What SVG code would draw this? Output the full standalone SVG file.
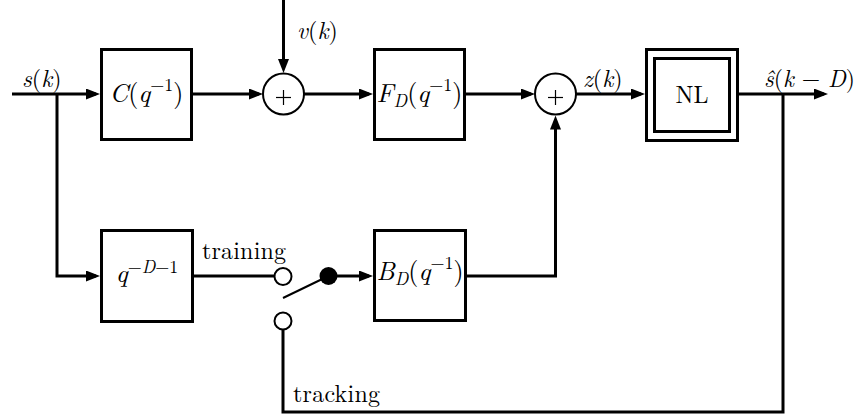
<svg xmlns="http://www.w3.org/2000/svg" width="859" height="418" viewBox="0 0 859 418" font-family="Latin Modern Roman, CMU Serif, Liberation Serif, serif">
<style>
.box{fill:none;stroke:#000;stroke-width:3}
.sum{fill:#fff;stroke:#000;stroke-width:2}
.ln{fill:none;stroke:#000;stroke-width:3}
.thin{fill:none;stroke:#000;stroke-width:2}
.pl{stroke:#000;stroke-width:1.2}
.t{font-size:24px;fill:#000}
.b{font-size:26px}
.i{font-style:italic}
.s{font-size:18px}
</style>
<defs>
<marker id="ah" markerUnits="userSpaceOnUse" markerWidth="15" markerHeight="12" refX="10" refY="5.5" orient="auto">
<path d="M0,0 L14,5.5 L0,11 z" fill="#000"/>
</marker>
</defs>
<g id="connectors">
<path class="ln" d="M12,94 H96" marker-end="url(#ah)"/>
<path class="ln" d="M57,94 V276 H96" marker-end="url(#ah)"/>
<path class="ln" d="M193,94 H259" marker-end="url(#ah)"/>
<path class="ln" d="M283.5,0 V69" marker-end="url(#ah)"/>
<path class="ln" d="M304,94 H369" marker-end="url(#ah)"/>
<path class="ln" d="M466,94 H531" marker-end="url(#ah)"/>
<path class="ln" d="M576,94 H641" marker-end="url(#ah)"/>
<path class="ln" d="M739,94 H824" marker-end="url(#ah)"/>
<path class="ln" d="M783,94 V412 H283 V330"/>
<path class="ln" d="M194,276 H275"/>
<path class="ln" d="M337,276 H369" marker-end="url(#ah)"/>
<path class="ln" d="M467,276 H555.5 V119.5" marker-end="url(#ah)"/>
</g>
<g id="C">
<rect class="box" x="101.5" y="49.5" width="90" height="90"/>
<text class="t b" x="146.5" y="102" text-anchor="middle"><tspan class="i">C</tspan>(<tspan class="i">q</tspan><tspan class="s" dy="-11">−1</tspan><tspan dy="11">)</tspan></text>
</g>
<g id="sum1">
<circle class="sum" cx="283.5" cy="94" r="20.5"/>
<line class="pl" x1="276" y1="97.5" x2="291" y2="97.5"/>
<line class="pl" x1="283.5" y1="90" x2="283.5" y2="105"/>
</g>
<g id="F">
<rect class="box" x="374.5" y="49.5" width="90" height="90"/>
<text class="t b" x="419.5" y="102" text-anchor="middle"><tspan class="i">F</tspan><tspan class="i s" dy="5">D</tspan><tspan dy="-5">(</tspan><tspan class="i">q</tspan><tspan class="s" dy="-11">−1</tspan><tspan dy="11">)</tspan></text>
</g>
<g id="sum2">
<circle class="sum" cx="555.5" cy="94" r="20.5"/>
<line class="pl" x1="548" y1="97.5" x2="563" y2="97.5"/>
<line class="pl" x1="555.5" y1="90" x2="555.5" y2="105"/>
</g>
<g id="NL">
<rect class="box" x="646.5" y="49.5" width="91" height="91"/>
<rect class="box" x="654.5" y="58.5" width="75" height="73"/>
<text class="t" x="692" y="103" text-anchor="middle">NL</text>
</g>
<g id="delay">
<rect class="box" x="101.5" y="230.5" width="91" height="91"/>
<text class="t b" x="147" y="282" text-anchor="middle"><tspan class="i">q</tspan><tspan class="s" dy="-9">−<tspan class="i">D</tspan>−1</tspan></text>
</g>
<g id="B">
<rect class="box" x="374.5" y="230.5" width="91" height="90"/>
<text class="t b" x="420" y="280" text-anchor="middle"><tspan class="i">B</tspan><tspan class="i s" dy="5">D</tspan><tspan dy="-5">(</tspan><tspan class="i">q</tspan><tspan class="s" dy="-11">−1</tspan><tspan dy="11">)</tspan></text>
</g>
<g id="switch">
<circle class="thin" cx="283" cy="276.5" r="8.5" style="fill:#fff"/>
<circle class="thin" cx="283" cy="321" r="8.5" style="fill:#fff"/>
<line class="thin" x1="283" y1="298" x2="328.5" y2="276"/>
<circle cx="328.5" cy="276" r="9" fill="#000"/>
</g>
<g id="labels">
<text class="t" x="22" y="87"><tspan class="i">s</tspan>(<tspan class="i">k</tspan>)</text>
<text class="t" x="297" y="39"><tspan class="i">v</tspan>(<tspan class="i">k</tspan>)</text>
<text class="t" x="583" y="87"><tspan class="i">z</tspan>(<tspan class="i">k</tspan>)</text>
<text class="t" x="764" y="87" textLength="91" lengthAdjust="spacingAndGlyphs"><tspan class="i">ŝ</tspan>(<tspan class="i">k</tspan> − <tspan class="i">D</tspan>)</text>
<text class="t" x="202" y="259" textLength="84" lengthAdjust="spacing">training</text>
<text class="t" x="293" y="402" textLength="87" lengthAdjust="spacing">tracking</text>
</g>
</svg>
